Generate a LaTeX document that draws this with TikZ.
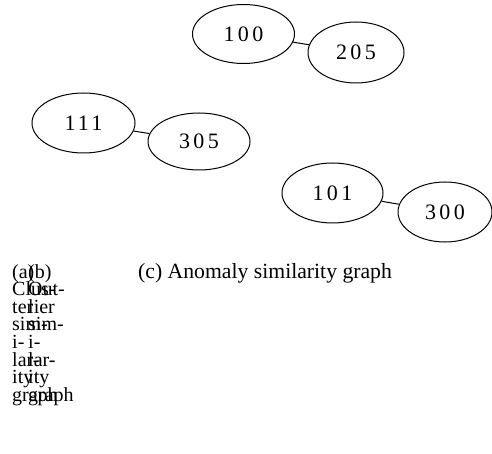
\documentclass[tikz,border=0pt]{standalone}
\usepackage{fontspec}
\setmainfont{Liberation Serif}
\usetikzlibrary{shapes.geometric}
\begin{document}
\begin{tikzpicture}[x=1pt,y=-1pt,
  vertex/.style={draw,ellipse,line width=1pt,inner sep=0pt,
    font=\fontsize{22}{26}\selectfont\addfontfeature{LetterSpace=15}},
  edge/.style={line width=1pt},
  capc/.style={anchor=base west,inner sep=0pt,font=\fontsize{21.7}{26}\selectfont},
  capcol/.style={anchor=base west,inner sep=0pt,font=\fontsize{20}{24}\selectfont}]
\useasboundingbox (0,0) rectangle (492,454);

% graph of anomalies
\node[vertex,minimum width=102pt,minimum height=59pt] (n100) at (243.5,34) {100};
\node[vertex,minimum width=96pt,minimum height=61pt] (n205) at (356,52.5) {205};
\node[vertex,minimum width=103pt,minimum height=60pt] (n111) at (83.5,123) {111};
\node[vertex,minimum width=102pt,minimum height=57pt] (n305) at (199,141.5) {305};
\node[vertex,minimum width=101pt,minimum height=60pt] (n101) at (332.5,193) {101};
\node[vertex,minimum width=94pt,minimum height=60pt] (n300) at (445,212) {300};
\draw[edge] (n100) -- (n205);
\draw[edge] (n111) -- (n305);
\draw[edge] (n101) -- (n300);

% sub-captions
\node[capc] (capc) at (138,278) {(c) Anomaly similarity graph};

% two narrow caption columns, set on top of each other
\foreach \w [count=\i] in {(a),Clus-,ter,sim-,i-,lar-,ity,graph}
  \node[capcol] (ca\i) at (12,278+17.6*\i-17.6) {\w};
\foreach \w [count=\i] in {(b),Out-,lier,sim-,i-,lar-,ity,graph}
  \node[capcol] (cb\i) at (28,278+17.6*\i-17.6) {\w};
\end{tikzpicture}
\end{document}
